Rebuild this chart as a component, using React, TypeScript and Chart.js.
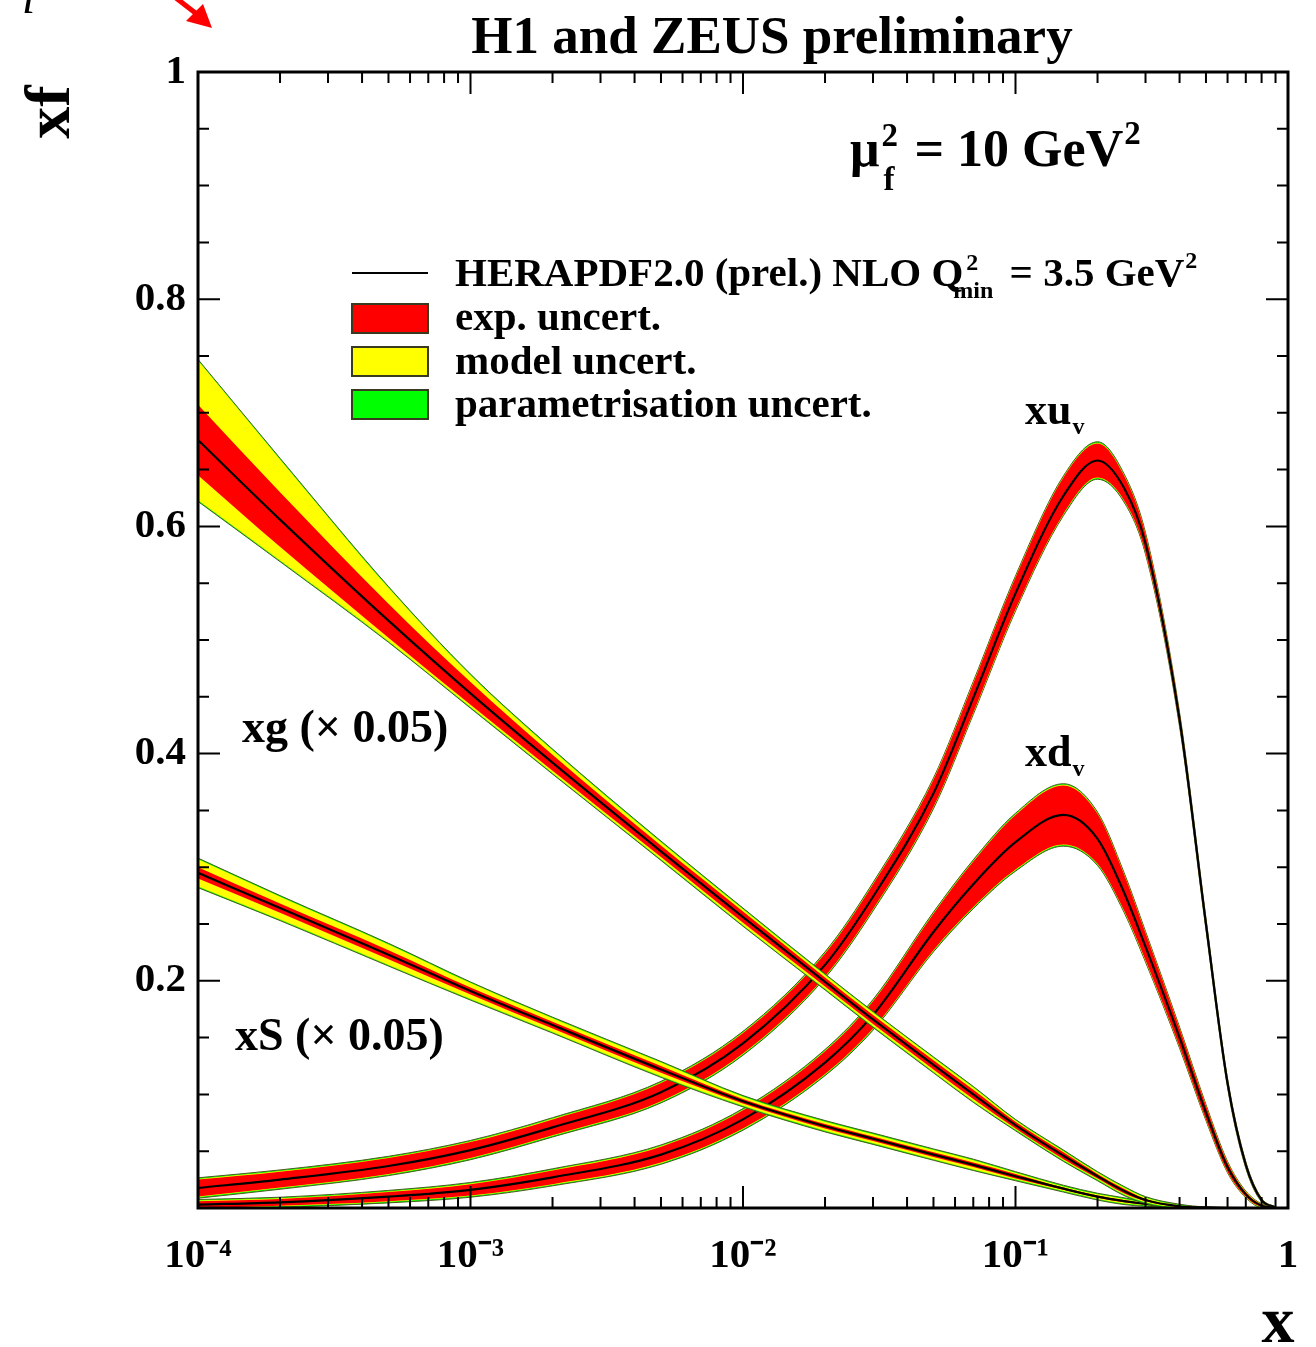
import React, { useEffect, useRef } from 'react';
import { Chart, registerables } from 'chart.js';

Chart.register(...registerables);

// ---------------- data ----------------
const xGrid = [1e-4, 2e-4, 5e-4, 1e-3, 2e-3, 5e-3, 0.01, 0.02, 0.03, 0.05, 0.07, 0.1, 0.15, 0.2, 0.25, 0.3, 0.4, 0.5, 0.6, 0.7, 0.8, 0.9];

// x u_v
const xuvCentral = [0.0176, 0.025, 0.037, 0.051, 0.071, 0.102, 0.145, 0.214, 0.274, 0.365, 0.449, 0.541, 0.627, 0.658, 0.634, 0.585, 0.43, 0.25, 0.11, 0.038, 0.007, 0.0005];
const xuvExp = [0.0075, 0.007, 0.007, 0.007, 0.007, 0.008, 0.009, 0.01, 0.011, 0.012, 0.013, 0.014, 0.016, 0.015, 0.011, 0.008, 0.005, 0.004, 0.003, 0.002, 0.001, 0.0003];
const xuvModel = [0.0005, 0.0005, 0.0005, 0.0005, 0.0005, 0.0005, 0.0005, 0.0005, 0.0005, 0.0005, 0.0005, 0.0005, 0.0005, 0.0005, 0.0005, 0.0005, 0.0005, 0.0005, 0.0005, 0.0005, 0.0003, 0];

// x d_v
const xdvCentral = [0.003, 0.005, 0.01, 0.016, 0.027, 0.047, 0.078, 0.128, 0.17, 0.243, 0.285, 0.322, 0.346, 0.325, 0.278, 0.23, 0.15, 0.084, 0.036, 0.012, 0.002, 0.0002];
const xdvExp = [0.003, 0.003, 0.004, 0.005, 0.006, 0.007, 0.008, 0.01, 0.012, 0.016, 0.02, 0.024, 0.026, 0.022, 0.016, 0.012, 0.008, 0.006, 0.004, 0.002, 0.001, 0.0002];
const xdvModel = [0.0005, 0.0005, 0.0005, 0.0005, 0.0005, 0.0005, 0.0005, 0.0005, 0.0005, 0.0005, 0.0005, 0.0005, 0.0005, 0.0005, 0.0005, 0.0005, 0.0005, 0.0005, 0.0005, 0.0005, 0.0003, 0];

// x S (x 0.05)
const seaCentral = [0.295, 0.264, 0.223, 0.191, 0.161, 0.122, 0.094, 0.072, 0.061, 0.047, 0.038, 0.028, 0.017, 0.01, 0.006, 0.0035, 0.001, 0.0002, 0, 0, 0, 0];
const seaExp = [0.005, 0.004, 0.004, 0.003, 0.003, 0.003, 0.002, 0.002, 0.002, 0.002, 0.002, 0.002, 0.001, 0.001, 0.001, 0.0005, 0, 0, 0, 0, 0, 0];
const seaModel = [0.007, 0.006, 0.005, 0.004, 0.003, 0.003, 0.002, 0.002, 0.002, 0.002, 0.002, 0.001, 0.001, 0.001, 0.001, 0.0005, 0, 0, 0, 0, 0, 0];

// x g (x 0.05)
const gluCentral = [0.676, 0.606, 0.517, 0.453, 0.392, 0.314, 0.256, 0.199, 0.166, 0.126, 0.1, 0.073, 0.046, 0.028, 0.015, 0.007, 0.0015, 0.0003, 0, 0, 0, 0];
const gluExp = [0.031, 0.024, 0.015, 0.01, 0.007, 0.005, 0.005, 0.004, 0.004, 0.004, 0.004, 0.003, 0.003, 0.002, 0.002, 0.001, 0.0005, 0, 0, 0, 0, 0];
const gluModelUp = [0.039, 0.029, 0.014, 0.006, 0.004, 0.003, 0.002, 0.002, 0.002, 0.002, 0.002, 0.001, 0.001, 0.001, 0.001, 0.001, 0.0005, 0, 0, 0, 0, 0];
const gluModelDn = [0.022, 0.012, 0.003, 0.002, 0.002, 0.002, 0.002, 0.002, 0.002, 0.002, 0.002, 0.001, 0.001, 0.001, 0.001, 0.001, 0.0005, 0, 0, 0, 0, 0];

// parametrisation uncertainty (very thin)
const paramUncert = [0.001, 0.001, 0.001, 0.001, 0.001, 0.001, 0.001, 0.001, 0.001, 0.001, 0.001, 0.001, 0.001, 0.001, 0.001, 0.001, 0.0008, 0.0006, 0.0005, 0.0004, 0.0003, 0];

// axes
const xMajorTicks = [1e-4, 1e-3, 1e-2, 1e-1, 1];
const xTickLabels = ['10\u207B\u2074', '10\u207B\u00B3', '10\u207B\u00B2', '10\u207B\u00B9', '1'];
const yMajorTicks = [0.2, 0.4, 0.6, 0.8, 1];
const yTickLabels = ['0.2', '0.4', '0.6', '0.8', '1'];

// ---------------- styling ----------------
const SERIF = "'Liberation Serif', 'Times New Roman', serif";
const RED = '#ff0000';
const YELLOW = '#ffff00';
const GREEN = '#00ff00';
const EDGE = '#4a5a1c';

const W = 1316;
const H = 1347;

function pts(vals: number[]) {
  return xGrid.map((x, i) => ({ x, y: vals[i] }));
}

function buildDatasets() {
  const series = [
    { name: 'xuv', central: xuvCentral, exp: xuvExp, up: xuvModel, dn: xuvModel },
    { name: 'xdv', central: xdvCentral, exp: xdvExp, up: xdvModel, dn: xdvModel },
    { name: 'xS', central: seaCentral, exp: seaExp, up: seaModel, dn: seaModel },
    { name: 'xg', central: gluCentral, exp: gluExp, up: gluModelUp, dn: gluModelDn },
  ];
  const ds: any[] = [];
  const common = { pointRadius: 0, pointHoverRadius: 0, cubicInterpolationMode: 'monotone' };
  const hidden = { borderColor: 'rgba(0,0,0,0)', borderWidth: 0, fill: false };
  series.forEach((s, r) => {
    const base = 100 - r * 10;
    const c = s.central;
    const envLo = c.map((v, i) => v - s.exp[i] - s.dn[i] - paramUncert[i]);
    const envHi = c.map((v, i) => v + s.exp[i] + s.up[i] + paramUncert[i]);
    const modLo = c.map((v, i) => v - s.exp[i] - s.dn[i]);
    const modHi = c.map((v, i) => v + s.exp[i] + s.up[i]);
    const expLo = c.map((v, i) => v - s.exp[i]);
    const expHi = c.map((v, i) => v + s.exp[i]);
    const i0 = ds.length;
    ds.push({ ...common, label: s.name + ' param lo', data: pts(envLo), borderColor: EDGE, borderWidth: 1, fill: false, order: base });
    ds.push({ ...common, label: s.name + ' param hi', data: pts(envHi), borderColor: EDGE, borderWidth: 1, fill: i0, backgroundColor: GREEN, order: base });
    ds.push({ ...common, ...hidden, label: s.name + ' model lo', data: pts(modLo), order: base - 1 });
    ds.push({ ...common, label: s.name + ' model hi', data: pts(modHi), borderColor: 'rgba(0,0,0,0)', borderWidth: 0, fill: i0 + 2, backgroundColor: YELLOW, order: base - 1 });
    ds.push({ ...common, ...hidden, label: s.name + ' exp lo', data: pts(expLo), order: base - 2 });
    ds.push({ ...common, label: s.name + ' exp hi', data: pts(expHi), borderColor: 'rgba(0,0,0,0)', borderWidth: 0, fill: i0 + 4, backgroundColor: RED, order: base - 2 });
    ds.push({ ...common, label: s.name, data: pts(c), borderColor: '#000000', borderWidth: 2.2, fill: false, order: base - 3 });
  });
  return ds;
}

function f(size: number, style = 'bold') {
  return `${style} ${size}px ${SERIF}`;
}

function run(ctx: CanvasRenderingContext2D, x: number, y: number, text: string, size: number) {
  ctx.font = f(size);
  ctx.fillText(text, x, y);
  return x + ctx.measureText(text).width;
}

const decor = {
  id: 'decor',
  afterDatasetsDraw(chart: any) {
    const { ctx, chartArea: a, scales } = chart;
    const xs = scales.x;
    const ys = scales.y;
    ctx.save();
    ctx.strokeStyle = '#000';
    ctx.lineWidth = 2;
    // x ticks (inside, bottom and top)
    for (let e = -4; e <= 0; e++) {
      for (let k = 1; k <= 9; k++) {
        const v = k * Math.pow(10, e);
        if (v > 1.0000001) break;
        const px = xs.getPixelForValue(v);
        const len = k === 1 ? 22 : 11;
        ctx.beginPath();
        ctx.moveTo(px, a.bottom);
        ctx.lineTo(px, a.bottom - len);
        ctx.moveTo(px, a.top);
        ctx.lineTo(px, a.top + len);
        ctx.stroke();
      }
    }
    // y ticks (inside, left and right)
    for (let i = 0; i <= 20; i++) {
      const v = i * 0.05;
      const py = ys.getPixelForValue(v);
      const len = i % 4 === 0 ? 22 : 11;
      ctx.beginPath();
      ctx.moveTo(a.left, py);
      ctx.lineTo(a.left + len, py);
      ctx.moveTo(a.right, py);
      ctx.lineTo(a.right - len, py);
      ctx.stroke();
    }
    // frame
    ctx.lineWidth = 3;
    ctx.strokeRect(a.left, a.top, a.right - a.left, a.bottom - a.top);
    ctx.restore();
  },
  afterDraw(chart: any) {
    const { ctx } = chart;
    ctx.save();
    ctx.fillStyle = '#000';
    ctx.textBaseline = 'alphabetic';
    ctx.textAlign = 'left';

    // title
    ctx.textAlign = 'center';
    ctx.font = f(53);
    ctx.fillText('H1 and ZEUS preliminary', 772, 53);
    ctx.textAlign = 'left';

    // y axis title (rotated)
    ctx.save();
    ctx.translate(52, 112);
    ctx.rotate(-Math.PI / 2);
    ctx.textAlign = 'center';
    ctx.textBaseline = 'middle';
    ctx.font = f(64);
    ctx.fillText('xf', 0, 0);
    ctx.restore();

    // x axis title
    ctx.textAlign = 'center';
    ctx.font = f(66);
    ctx.fillText('x', 1278, 1342);
    ctx.textAlign = 'left';

    // mu_f^2 = 10 GeV^2
    {
      let x = 850;
      const y = 166;
      x = run(ctx, x, y, '\u03BC', 52);
      ctx.font = f(33);
      ctx.fillText('2', x + 2, y - 20);
      ctx.fillText('f', x + 4, y + 24);
      x += 22;
      x = run(ctx, x, y, ' = 10 GeV', 52);
      run(ctx, x + 1, y - 22, '2', 33);
    }

    // legend
    ctx.strokeStyle = '#000';
    ctx.lineWidth = 2;
    ctx.beginPath();
    ctx.moveTo(352, 273);
    ctx.lineTo(428, 273);
    ctx.stroke();
    const boxes: [string, number][] = [[RED, 304], [YELLOW, 347], [GREEN, 390]];
    boxes.forEach(([col, top]) => {
      ctx.fillStyle = col;
      ctx.fillRect(352, top, 76, 29);
      ctx.strokeStyle = '#3a3a20';
      ctx.lineWidth = 2;
      ctx.strokeRect(352, top, 76, 29);
    });
    ctx.fillStyle = '#000';
    {
      let x = 455;
      const y = 286;
      x = run(ctx, x, y, 'HERAPDF2.0 (prel.) NLO Q', 41);
      ctx.font = f(24);
      ctx.fillText('2', x + 3, y - 16);
      ctx.fillText('min', x - 10, y + 12);
      x += 36;
      x = run(ctx, x, y, ' = 3.5 GeV', 41);
      run(ctx, x + 1, y - 18, '2', 24);
    }
    run(ctx, 455, 330, 'exp. uncert.', 41);
    run(ctx, 455, 374, 'model uncert.', 41);
    run(ctx, 455, 417, 'parametrisation uncert.', 41);

    // curve labels
    {
      let x = run(ctx, 1025, 424, 'xu', 44);
      run(ctx, x + 1, 434, 'v', 24);
      x = run(ctx, 1025, 766, 'xd', 44);
      run(ctx, x + 1, 776, 'v', 24);
    }
    run(ctx, 242, 742, 'xg (\u00D7 0.05)', 46);
    run(ctx, 235, 1050, 'xS (\u00D7 0.05)', 46);

    // stray slide fragments at the top-left corner
    ctx.font = f(48, 'italic');
    ctx.fillText('l', 22, 13);
    ctx.strokeStyle = RED;
    ctx.fillStyle = RED;
    ctx.lineWidth = 5;
    ctx.beginPath();
    ctx.moveTo(176, -2);
    ctx.lineTo(198, 15);
    ctx.stroke();
    ctx.beginPath();
    ctx.moveTo(212, 28);
    ctx.lineTo(186, 21);
    ctx.lineTo(203, 4);
    ctx.closePath();
    ctx.fill();

    ctx.restore();
  },
};

export default function App() {
  const ref = useRef<HTMLCanvasElement | null>(null);
  useEffect(() => {
    document.body.style.margin = '0';
    const canvas = ref.current;
    if (!canvas) return;
    const tickFont = { family: SERIF, size: 41, weight: 'bold' as const };
    const chart = new Chart(canvas, {
      type: 'line',
      data: { datasets: buildDatasets() },
      options: {
        responsive: false,
        animation: false,
        devicePixelRatio: 1,
        events: [],
        layout: { padding: { top: 72, right: 28, left: 0, bottom: 0 } },
        plugins: {
          legend: { display: false },
          tooltip: { enabled: false },
          title: { display: false },
        },
        scales: {
          x: {
            type: 'logarithmic',
            min: 1e-4,
            max: 1,
            grid: { display: false, drawTicks: false },
            border: { display: false },
            afterBuildTicks: (s: any) => {
              s.ticks = xMajorTicks.map((v) => ({ value: v }));
            },
            afterFit: (s: any) => {
              s.height = H - 1208;
              s.paddingLeft = 0;
              s.paddingRight = 0;
            },
            ticks: {
              autoSkip: false,
              maxRotation: 0,
              padding: 24,
              color: '#000',
              font: tickFont,
              callback: (_v: any, i: number) => xTickLabels[i],
            },
          },
          y: {
            type: 'linear',
            min: 0,
            max: 1,
            grid: { display: false, drawTicks: false },
            border: { display: false },
            afterBuildTicks: (s: any) => {
              s.ticks = yMajorTicks.map((v) => ({ value: v }));
            },
            afterFit: (s: any) => {
              s.width = 198;
              s.paddingTop = 0;
              s.paddingBottom = 0;
            },
            ticks: {
              autoSkip: false,
              padding: 12,
              color: '#000',
              font: tickFont,
              callback: (_v: any, i: number) => yTickLabels[i],
            },
          },
        },
      } as any,
      plugins: [decor],
    });
    return () => chart.destroy();
  }, []);
  return (
    <div style={{ width: W, height: H, background: '#fff' }}>
      <canvas ref={ref} width={W} height={H} style={{ display: 'block' }} />
    </div>
  );
}
